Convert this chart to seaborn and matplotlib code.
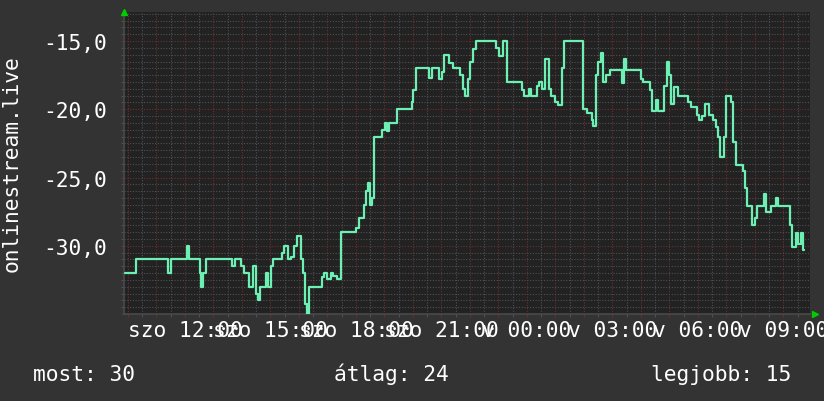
import matplotlib
matplotlib.use("Agg")
import matplotlib.pyplot as plt
import seaborn as sns
import pandas as pd
from matplotlib.ticker import MultipleLocator, FuncFormatter

# hours since Saturday 00:00 (szo), values = negated rank
hours = [9.895, 10.28, 11.41, 11.50, 12.08, 12.15, 12.53, 12.57, 12.64, 12.74,
         13.64, 13.75, 13.95, 14.08, 14.24, 14.38, 14.49, 14.56, 14.63, 14.83,
         14.90, 15.01, 15.08, 15.41, 15.48, 15.60, 15.71, 15.82, 15.94, 16.07,
         16.13, 16.21, 16.27, 16.35, 16.82, 16.89, 16.99, 17.11, 17.20, 17.32,
         17.46, 18.00, 18.11, 18.29, 18.35, 18.43, 18.49, 18.57, 18.64, 18.90,
         19.02, 19.08, 19.17, 19.43, 19.95, 20.01, 20.11, 20.57, 20.66, 20.92,
         21.01, 21.09, 21.26, 21.41, 21.65, 21.77, 21.82, 21.94, 22.00, 22.12,
         22.21, 22.91, 23.03, 23.15, 23.29, 23.81, 23.89, 24.06, 24.15, 24.34,
         24.43, 24.52, 24.63, 24.76, 24.84, 24.99, 25.10, 25.22, 25.31, 25.98,
         26.09, 26.27, 26.33, 26.41, 26.50, 26.59, 26.66, 26.77, 26.91, 27.32,
         27.40, 27.47, 27.99, 28.08, 28.32, 28.40, 28.52, 28.60, 28.82, 28.92,
         28.99, 29.05, 29.16, 29.31, 29.66, 29.74, 29.95, 30.05, 30.13, 30.25,
         30.40, 30.54, 30.62, 30.69, 30.77, 30.91, 30.98, 31.16, 31.24, 31.32,
         31.57, 31.65, 31.71, 31.91, 32.00, 32.06, 32.32, 32.39, 32.55, 32.73,
         32.81, 33.23, 33.31, 33.43, 33.50, 33.61, 33.68, 33.73]
rank = [-32, -31, -32, -31, -30, -31, -32, -33, -32, -31,
        -31.5, -31, -31.5, -32, -33, -31.5, -33.5, -34, -33, -32,
        -33, -31.5, -31, -30.5, -30, -31, -30.8, -30, -29.3, -31,
        -32, -34.3, -35, -33, -32.3, -32, -32.4, -32, -32.2, -32.4,
        -29, -28.7, -28, -27, -26, -25.4, -27, -26.5, -22, -21.5,
        -21, -21.6, -21, -20, -19.5, -18.6, -17, -17.7, -17, -17.8,
        -17.3, -16, -16.6, -17, -17.5, -18.5, -19, -17.8, -16.5, -15.6,
        -15, -15.5, -16.1, -15, -18, -18.6, -19, -18.5, -19, -18.3,
        -18, -18.5, -16.3, -18.5, -19, -19.5, -19.7, -17, -15, -20,
        -20.3, -20.8, -21.2, -17.5, -16.5, -15.9, -18, -17.5, -17.1, -18.1,
        -16.3, -17.1, -17.8, -18, -18.6, -20.1, -19.3, -20.1, -18.3, -16.5,
        -17.5, -19.6, -18.4, -19, -19.5, -19.8, -20.4, -20.8, -20.5, -19.6,
        -20.4, -20.8, -21.3, -22, -23.5, -22, -19, -19.5, -22.4, -24.1,
        -24.5, -25.8, -27.1, -28.5, -28, -27.1, -26.2, -27.5, -27.1, -26.5,
        -27.1, -28.5, -30.1, -29.1, -29.9, -29.1, -30.3, -30.3]

label_hours = [12, 15, 18, 21, 24, 27, 30, 33]
label_texts = ["szo 12:00", "szo 15:00", "szo 18:00", "szo 21:00",
               "v 00:00", "v 03:00", "v 06:00", "v 09:00"]
y_labels = [-30, -25, -20, -15]
y_title = "onlinestream.live"
footer = ["most: 30", "átlag: 24", "legjobb: 15"]

BG = "#333333"
PLOT_BG = "#222222"
LINE = "#6cf0b4"
MINOR = "#505050"
MAJOR = "#6e3030"
FS = 15.3

sns.set_theme(style="dark")
plt.rcParams["font.family"] = ["DejaVu Sans Mono", "DejaVu Sans"]

fig = plt.figure(figsize=(8.24, 4.02), dpi=100, facecolor=BG)
ax = fig.add_axes([124 / 824, 1 - 315 / 402, (810 - 124) / 824, (315 - 13) / 402])
ax.set_facecolor(PLOT_BG)

df = pd.DataFrame({"ora": hours, "helyezes": rank})
sns.lineplot(data=df, x="ora", y="helyezes", ax=ax, color=LINE, lw=1.6,
             drawstyle="steps-post", estimator=None, zorder=5)

ax.set_xlim(9.86, 33.93)
ax.set_ylim(-35, -12.87)

ax.xaxis.set_major_locator(MultipleLocator(1))
ax.xaxis.set_minor_locator(MultipleLocator(0.5))
lab_map = dict(zip(label_hours, label_texts))


def xfmt(v, pos):
    r = int(round(v))
    if abs(v - r) < 1e-6 and r in lab_map:
        return lab_map[r]
    return ""


ax.xaxis.set_major_formatter(FuncFormatter(xfmt))
ax.yaxis.set_major_locator(MultipleLocator(5))
ax.yaxis.set_minor_locator(MultipleLocator(0.5))


def yfmt(v, pos):
    r = int(round(v))
    if r in y_labels:
        return f"{v:.1f}".replace(".", ",")
    return ""


ax.yaxis.set_major_formatter(FuncFormatter(yfmt))

ax.grid(which="minor", color=MINOR, linestyle=(0, (1, 1.5)), lw=0.8, zorder=1)
ax.grid(which="major", color=MAJOR, linestyle=(0, (1, 1.5)), lw=0.8, zorder=2)
ax.set_axisbelow(True)

for s in ["top", "right"]:
    ax.spines[s].set_visible(False)
for s in ["left", "bottom"]:
    ax.spines[s].set_visible(True)
    ax.spines[s].set_color("#4a4a4a")
    ax.spines[s].set_linewidth(1.2)

ax.tick_params(axis="x", which="major", length=2.5, width=0.8, color=MAJOR,
               labelcolor="white", labelsize=FS, pad=2, bottom=True)
ax.tick_params(axis="x", which="minor", length=2.5, width=0.8, color=MINOR, bottom=True)
ax.tick_params(axis="y", which="major", length=2, width=0.8, color=MAJOR,
               labelcolor="white", labelsize=FS, pad=10, left=True)
ax.tick_params(axis="y", which="minor", length=2, width=0.8, color=MINOR, left=True)

ax.set_xlabel("")
ax.set_ylabel(y_title, color="white", fontsize=FS)
ax.yaxis.set_label_coords(-(124 - 22) / 686, 0.5)

# axis arrows
ax.plot([0], [1.0], marker="^", color="#00cc00", markersize=5, transform=ax.transAxes,
        clip_on=False, zorder=10)
ax.plot([1.008], [0.0], marker=">", color="#00cc00", markersize=5, transform=ax.transAxes,
        clip_on=False, zorder=10)

fig.text(33 / 824, 1 - 381 / 402, footer[0], color="white", fontsize=FS,
         ha="left", va="baseline")
fig.text(334 / 824, 1 - 381 / 402, footer[1], color="white", fontsize=FS,
         ha="left", va="baseline")
fig.text(791 / 824, 1 - 381 / 402, footer[2], color="white", fontsize=FS,
         ha="right", va="baseline")

fig.savefig("out.png", dpi=100, facecolor=BG)
